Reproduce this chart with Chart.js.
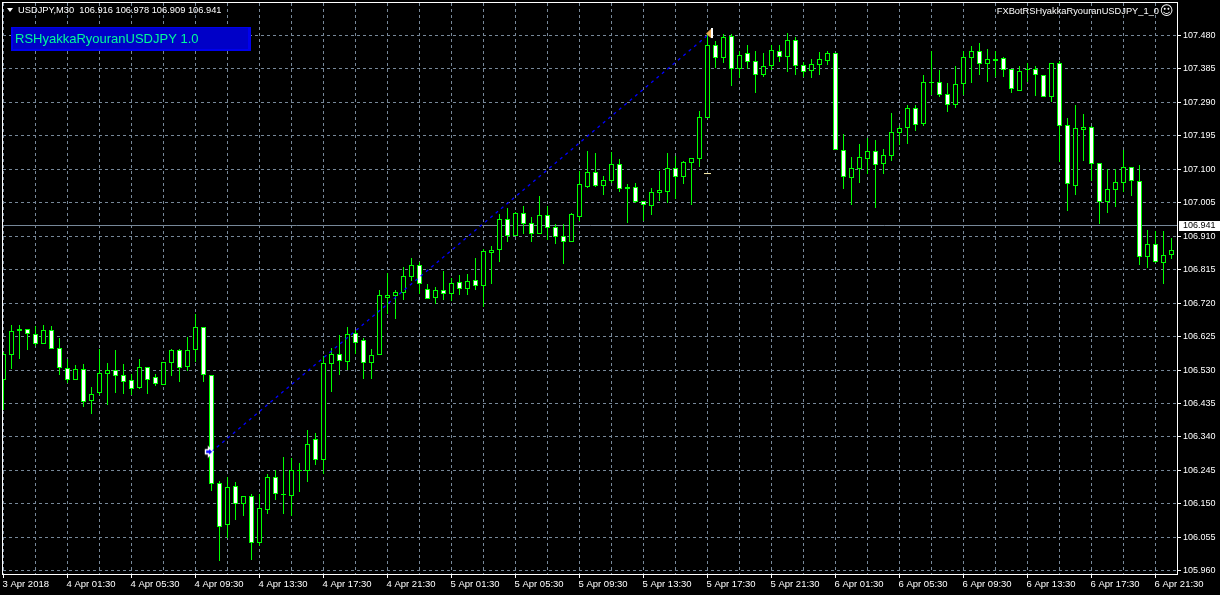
<!DOCTYPE html>
<html>
<head>
<meta charset="utf-8">
<title>USDJPY,M30</title>
<script src="https://cdn.jsdelivr.net/npm/chart.js@4"></script>
<style>
  html, body { margin: 0; padding: 0; background: #000; }
  canvas { display: block; }
</style>
</head>
<body>
<canvas id="chart" width="1220" height="595"></canvas>
<script>
const opens = [
  106.501,106.572,106.640,106.648,106.632,106.603,106.643,106.594,106.537,106.503,
  106.534,106.441,106.466,106.520,106.531,106.515,106.501,106.478,106.540,106.509,
  106.487,106.551,106.586,106.540,106.586,106.651,106.515,106.208,106.089,106.200,
  106.151,106.171,106.040,106.134,106.225,106.174,106.171,106.242,106.242,106.333,
  106.276,106.548,106.577,106.554,106.634,106.614,106.551,106.572,106.736,106.739,
  106.750,106.793,106.827,106.761,106.736,106.758,106.747,106.781,106.761,106.787,
  106.770,106.861,106.870,106.958,106.912,106.975,106.949,106.915,106.969,106.935,
  106.912,106.895,106.966,107.051,107.091,107.054,107.068,107.114,107.051,107.051,
  107.009,106.995,107.034,107.037,107.105,107.077,107.117,107.128,107.247,107.454,
  107.415,107.480,107.384,107.429,107.409,107.369,107.392,107.437,107.418,107.466,
  107.395,107.378,107.395,107.409,107.429,107.156,107.074,107.102,107.128,107.151,
  107.114,107.139,107.202,107.216,107.273,107.230,107.347,107.347,107.313,107.284,
  107.341,107.415,107.435,107.398,107.409,107.415,107.384,107.321,107.381,107.386,
  107.367,107.304,107.403,107.225,107.054,107.213,107.219,107.117,107.006,107.040,
  107.060,107.108,107.066,106.850,106.887,106.835,106.858,
]
const closes = [
  106.575,106.640,106.648,106.632,106.605,106.643,106.591,106.537,106.503,106.534,
  106.438,106.463,106.523,106.531,106.512,106.495,106.475,106.540,106.503,106.490,
  106.554,106.586,106.537,106.588,106.651,106.515,106.206,106.083,106.197,106.151,
  106.171,106.040,106.137,106.225,106.177,106.177,106.247,106.247,106.321,106.276,
  106.551,106.577,106.557,106.632,106.608,106.551,106.572,106.742,106.742,106.753,
  106.796,106.827,106.773,106.733,106.758,106.747,106.778,106.761,106.784,106.770,
  106.867,106.872,106.960,106.912,106.975,106.944,106.915,106.969,106.932,106.909,
  106.895,106.972,107.057,107.091,107.054,107.071,107.114,107.043,107.043,107.006,
  106.998,107.037,107.040,107.105,107.077,107.120,107.131,107.250,107.454,107.415,
  107.477,107.384,107.426,107.406,107.369,107.392,107.440,107.418,107.466,107.392,
  107.375,107.398,107.412,107.429,107.154,107.077,107.105,107.134,107.151,107.111,
  107.142,107.207,107.216,107.273,107.227,107.347,107.349,107.310,107.284,107.341,
  107.418,107.435,107.398,107.412,107.412,107.381,107.327,107.378,107.386,107.367,
  107.304,107.401,107.222,107.057,107.216,107.219,107.114,107.006,107.043,107.063,
  107.108,107.066,106.850,106.887,106.838,106.858,106.870,
]
const highs = [
  106.580,106.657,106.657,106.648,106.654,106.657,106.654,106.620,106.560,106.543,
  106.546,106.481,106.591,106.551,106.586,106.546,106.518,106.560,106.540,106.518,
  106.554,106.591,106.591,106.623,106.688,106.651,106.515,106.214,106.225,106.211,
  106.171,106.177,106.177,106.236,106.247,106.282,106.279,106.267,106.359,106.350,
  106.569,106.594,106.629,106.651,106.645,106.620,106.591,106.756,106.807,106.756,
  106.824,106.847,106.838,106.775,106.767,106.810,106.790,106.799,106.804,106.847,
  106.875,106.881,106.972,106.989,106.980,106.995,106.966,107.023,106.995,106.944,
  106.946,106.975,107.094,107.151,107.145,107.080,107.148,107.128,107.057,107.060,
  107.009,107.046,107.094,107.145,107.137,107.125,107.131,107.267,107.486,107.463,
  107.483,107.483,107.437,107.452,107.435,107.429,107.454,107.454,107.486,107.477,
  107.406,107.412,107.432,107.435,107.429,107.199,107.134,107.171,107.188,107.182,
  107.159,107.261,107.222,107.284,107.284,107.369,107.437,107.381,107.344,107.392,
  107.437,107.449,107.460,107.443,107.437,107.420,107.386,107.392,107.403,107.392,
  107.369,107.403,107.409,107.247,107.284,107.256,107.222,107.117,107.100,107.102,
  107.154,107.108,107.111,106.929,106.926,106.924,106.904,
]
const lows = [
  106.418,106.534,106.560,106.588,106.597,106.603,106.591,106.515,106.492,106.503,
  106.424,106.406,106.458,106.430,106.466,106.463,106.458,106.475,106.463,106.484,
  106.487,106.512,106.495,106.526,106.554,106.495,106.188,105.987,106.052,106.105,
  106.117,105.990,106.029,106.122,106.160,106.120,106.117,106.185,106.211,106.259,
  106.234,106.469,106.515,106.531,106.575,106.506,106.506,106.572,106.690,106.676,
  106.730,106.784,106.747,106.733,106.719,106.730,106.725,106.742,106.742,106.756,
  106.708,106.773,106.838,106.895,106.912,106.915,106.895,106.915,106.898,106.887,
  106.830,106.895,106.952,107.048,107.051,107.026,107.060,107.037,106.949,107.003,
  106.952,106.969,107.009,107.003,107.017,107.057,106.998,107.108,107.247,107.389,
  107.403,107.338,107.358,107.384,107.318,107.361,107.381,107.406,107.375,107.367,
  107.361,107.358,107.369,107.395,107.154,107.043,106.998,107.060,107.088,106.989,
  107.088,107.125,107.168,107.171,107.210,107.222,107.310,107.304,107.264,107.273,
  107.310,107.344,107.367,107.349,107.361,107.361,107.318,107.321,107.347,107.307,
  107.304,107.290,107.122,106.983,107.026,107.125,107.068,106.944,106.975,106.992,
  107.037,107.023,106.827,106.821,106.833,106.773,106.844,
]

const timeLabels = [
  '3 Apr 2018', '4 Apr 01:30', '4 Apr 05:30', '4 Apr 09:30', '4 Apr 13:30', '4 Apr 17:30', '4 Apr 21:30',
  '5 Apr 01:30', '5 Apr 05:30', '5 Apr 09:30', '5 Apr 13:30', '5 Apr 17:30', '5 Apr 21:30',
  '6 Apr 01:30', '6 Apr 05:30', '6 Apr 09:30', '6 Apr 13:30', '6 Apr 17:30', '6 Apr 21:30',
]
const priceTicks = [
  105.960, 106.055, 106.150, 106.245, 106.340, 106.435, 106.530, 106.625, 106.720,
  106.815, 106.910, 107.005, 107.100, 107.195, 107.290, 107.385, 107.480,
]

const tradeBars = [26, 88]
const tradePrices = [106.298, 107.480]
const stopBar = 88
const stopPrice = 107.088
const bidPrice = 106.941

const headerText = 'USDJPY,M30  106.916 106.978 106.909 106.941'
const panelText = 'RSHyakkaRyouranUSDJPY 1.0'
const expertText = 'FXBotRSHyakkaRyouranUSDJPY_1_0'

const GREEN = '#00ff00'
const GRID = '#778899'
const FONT = '"Liberation Sans"'

// one bar every 8px, 8 bars between time labels, grid on every 4th bar
const X_MIN = -0.0625
const X_MAX = 146.8125
const Y_MIN = 105.9509
const Y_MAX = 107.5723

const barIndex = opens.map((_, i) => i)
const wicks = barIndex.map((i) => ({ x: i, y: [lows[i], highs[i]] }))
const bodies = barIndex.map((i) => ({ x: i, y: [opens[i], closes[i]] }))

const makeMarker = (draw) => {
  const c = document.createElement('canvas')
  c.width = 15
  c.height = 15
  draw(c.getContext('2d'))
  return c
}

const buyArrow = makeMarker((ctx) => {
  ctx.beginPath()
  ctx.moveTo(1.5, 5.5)
  ctx.lineTo(4.5, 5.5)
  ctx.lineTo(4.5, 3)
  ctx.lineTo(9, 7.5)
  ctx.lineTo(4.5, 12)
  ctx.lineTo(4.5, 9.5)
  ctx.lineTo(1.5, 9.5)
  ctx.closePath()
  ctx.fillStyle = '#0000ff'
  ctx.strokeStyle = '#ffffff'
  ctx.lineWidth = 1.4
  ctx.fill()
  ctx.stroke()
})

const closeArrow = makeMarker((ctx) => {
  ctx.beginPath()
  ctx.moveTo(6, 5.5)
  ctx.lineTo(11, 1)
  ctx.lineTo(11, 10)
  ctx.closePath()
  ctx.fillStyle = '#e8a850'
  ctx.fill()
  ctx.fillStyle = '#ffffff'
  ctx.fillRect(11, 0, 2, 10)
})

// snap candle edges to whole pixels, the terminal draws without antialiasing
const snapBars = {
  id: 'snapBars',
  afterDatasetsUpdate(chart) {
    chart.data.datasets.forEach((ds, i) => {
      const meta = chart.getDatasetMeta(i)
      if (meta.type !== 'bar') return
      meta.data.forEach((bar) => {
        const top = Math.round(Math.min(bar.y, bar.base))
        const bottom = Math.round(Math.max(bar.y, bar.base))
        bar.y = top
        bar.base = Math.max(bottom, top + 1)
      })
    })
  },
}

const terminalDecor = {
  id: 'terminalDecor',
  beforeDatasetsDraw(chart) {
    const { ctx, chartArea, scales } = chart
    const y = Math.floor(scales.y.getPixelForValue(bidPrice)) + 0.5
    ctx.save()
    ctx.strokeStyle = GRID
    ctx.lineWidth = 1
    ctx.beginPath()
    ctx.moveTo(chartArea.left, y)
    ctx.lineTo(chartArea.right, y)
    ctx.stroke()
    ctx.restore()
  },
  afterDraw(chart) {
    const { ctx, chartArea, scales } = chart
    ctx.save()

    ctx.strokeStyle = '#ffffff'
    ctx.lineWidth = 1
    ctx.strokeRect(2.5, 2.5, chartArea.right - 3, chartArea.bottom - 2)

    ctx.textBaseline = 'middle'
    ctx.fillStyle = '#ffffff'
    ctx.beginPath()
    ctx.moveTo(7, 8)
    ctx.lineTo(13, 8)
    ctx.lineTo(10, 12)
    ctx.closePath()
    ctx.fill()

    ctx.font = `9.3px ${FONT}`
    ctx.textAlign = 'left'
    ctx.fillText(headerText, 18, 10.5)

    ctx.textAlign = 'right'
    ctx.fillText(expertText, 1159, 11.5)
    ctx.font = '13px "DejaVu Sans"'
    ctx.textAlign = 'center'
    ctx.fillText('☺', 1166.5, 11.5)

    // panel label
    ctx.fillStyle = '#0000ee'
    ctx.fillRect(11, 27, 240, 24)
    ctx.fillStyle = '#0000c8'
    ctx.fillRect(13, 28, 235, 21)
    ctx.fillStyle = '#00fa9a'
    ctx.font = `13px ${FONT}`
    ctx.textAlign = 'left'
    ctx.fillText(panelText, 15, 39.5)

    // bid tag on the price axis
    const tagY = Math.round(scales.y.getPixelForValue(bidPrice))
    ctx.fillStyle = '#ffffff'
    ctx.fillRect(chartArea.right + 1, tagY - 4, 41, 10)
    ctx.fillStyle = '#000000'
    ctx.font = `9px ${FONT}`
    ctx.fillText(bidPrice.toFixed(3), 1183, tagY + 1)

    ctx.restore()
  },
}

new Chart(document.getElementById('chart'), {
  type: 'bar',
  data: {
    datasets: [
      {
        label: 'range',
        data: wicks,
        order: 3,
        grouped: false,
        barThickness: 1,
        backgroundColor: GREEN,
        borderWidth: 0,
        inflateAmount: 0,
      },
      {
        label: 'body',
        data: bodies,
        order: 2,
        grouped: false,
        barThickness: 5,
        backgroundColor: bodies.map((b, i) => (closes[i] < opens[i] ? '#ffffff' : '#000000')),
        borderColor: GREEN,
        borderWidth: 1,
        borderSkipped: false,
        inflateAmount: 0,
      },
      {
        type: 'line',
        label: 'trade',
        data: tradeBars.map((x, i) => ({ x, y: tradePrices[i] })),
        order: 1,
        borderColor: '#0000ff',
        borderWidth: 1.3,
        borderDash: [3, 4],
        pointRadius: 0,
      },
      {
        type: 'line',
        label: 'entry',
        data: [{ x: tradeBars[0], y: tradePrices[0] }],
        order: 0,
        showLine: false,
        pointStyle: buyArrow,
      },
      {
        type: 'line',
        label: 'exit',
        data: [{ x: tradeBars[1], y: tradePrices[1] }],
        order: 0,
        showLine: false,
        pointStyle: closeArrow,
      },
      {
        type: 'line',
        label: 'stop',
        data: [{ x: stopBar, y: stopPrice }],
        order: 0,
        showLine: false,
        pointStyle: 'line',
        pointRadius: 3.5,
        pointBorderColor: '#fff2b0',
        pointBorderWidth: 1,
      },
    ],
  },
  options: {
    responsive: false,
    animation: false,
    devicePixelRatio: 1,
    layout: {
      autoPadding: false,
      padding: { top: 3, left: 3, right: 0, bottom: 0 },
    },
    plugins: {
      legend: { display: false },
      tooltip: { enabled: false },
    },
    scales: {
      x: {
        type: 'linear',
        offset: false,
        min: X_MIN,
        max: X_MAX,
        afterBuildTicks(scale) {
          const ticks = []
          for (let v = 0; v < X_MAX; v += 4) ticks.push({ value: v })
          scale.ticks = ticks
        },
        afterFit(scale) {
          scale.height = 21
          scale.paddingLeft = 0
          scale.paddingRight = 0
        },
        ticks: {
          autoSkip: false,
          maxRotation: 0,
          align: 'start',
          labelOffset: -1,
          padding: 1,
          color: '#ffffff',
          font: { family: FONT, size: 9.5 },
          callback: (value) => (value % 8 === 0 ? timeLabels[value / 8] : ''),
        },
        grid: {
          offset: false,
          color: GRID,
          lineWidth: 1,
          tickLength: 4,
          tickColor: (ctx) => (ctx.tick && ctx.tick.value % 8 === 0 ? '#ffffff' : 'rgba(0,0,0,0)'),
        },
        border: { display: false, dash: [3, 3] },
      },
      y: {
        position: 'right',
        min: Y_MIN,
        max: Y_MAX,
        afterBuildTicks(scale) {
          scale.ticks = priceTicks.map((value) => ({ value }))
        },
        afterFit(scale) {
          scale.width = 42
          scale.paddingTop = 0
          scale.paddingBottom = 0
        },
        ticks: {
          autoSkip: false,
          padding: 2,
          color: '#ffffff',
          font: { family: FONT, size: 9 },
          callback: (value) => value.toFixed(3),
        },
        grid: {
          color: GRID,
          lineWidth: 1,
          tickLength: 3,
          tickColor: '#ffffff',
        },
        border: { display: false, dash: [3, 3] },
      },
    },
  },
  plugins: [snapBars, terminalDecor],
})
</script>
</body>
</html>
